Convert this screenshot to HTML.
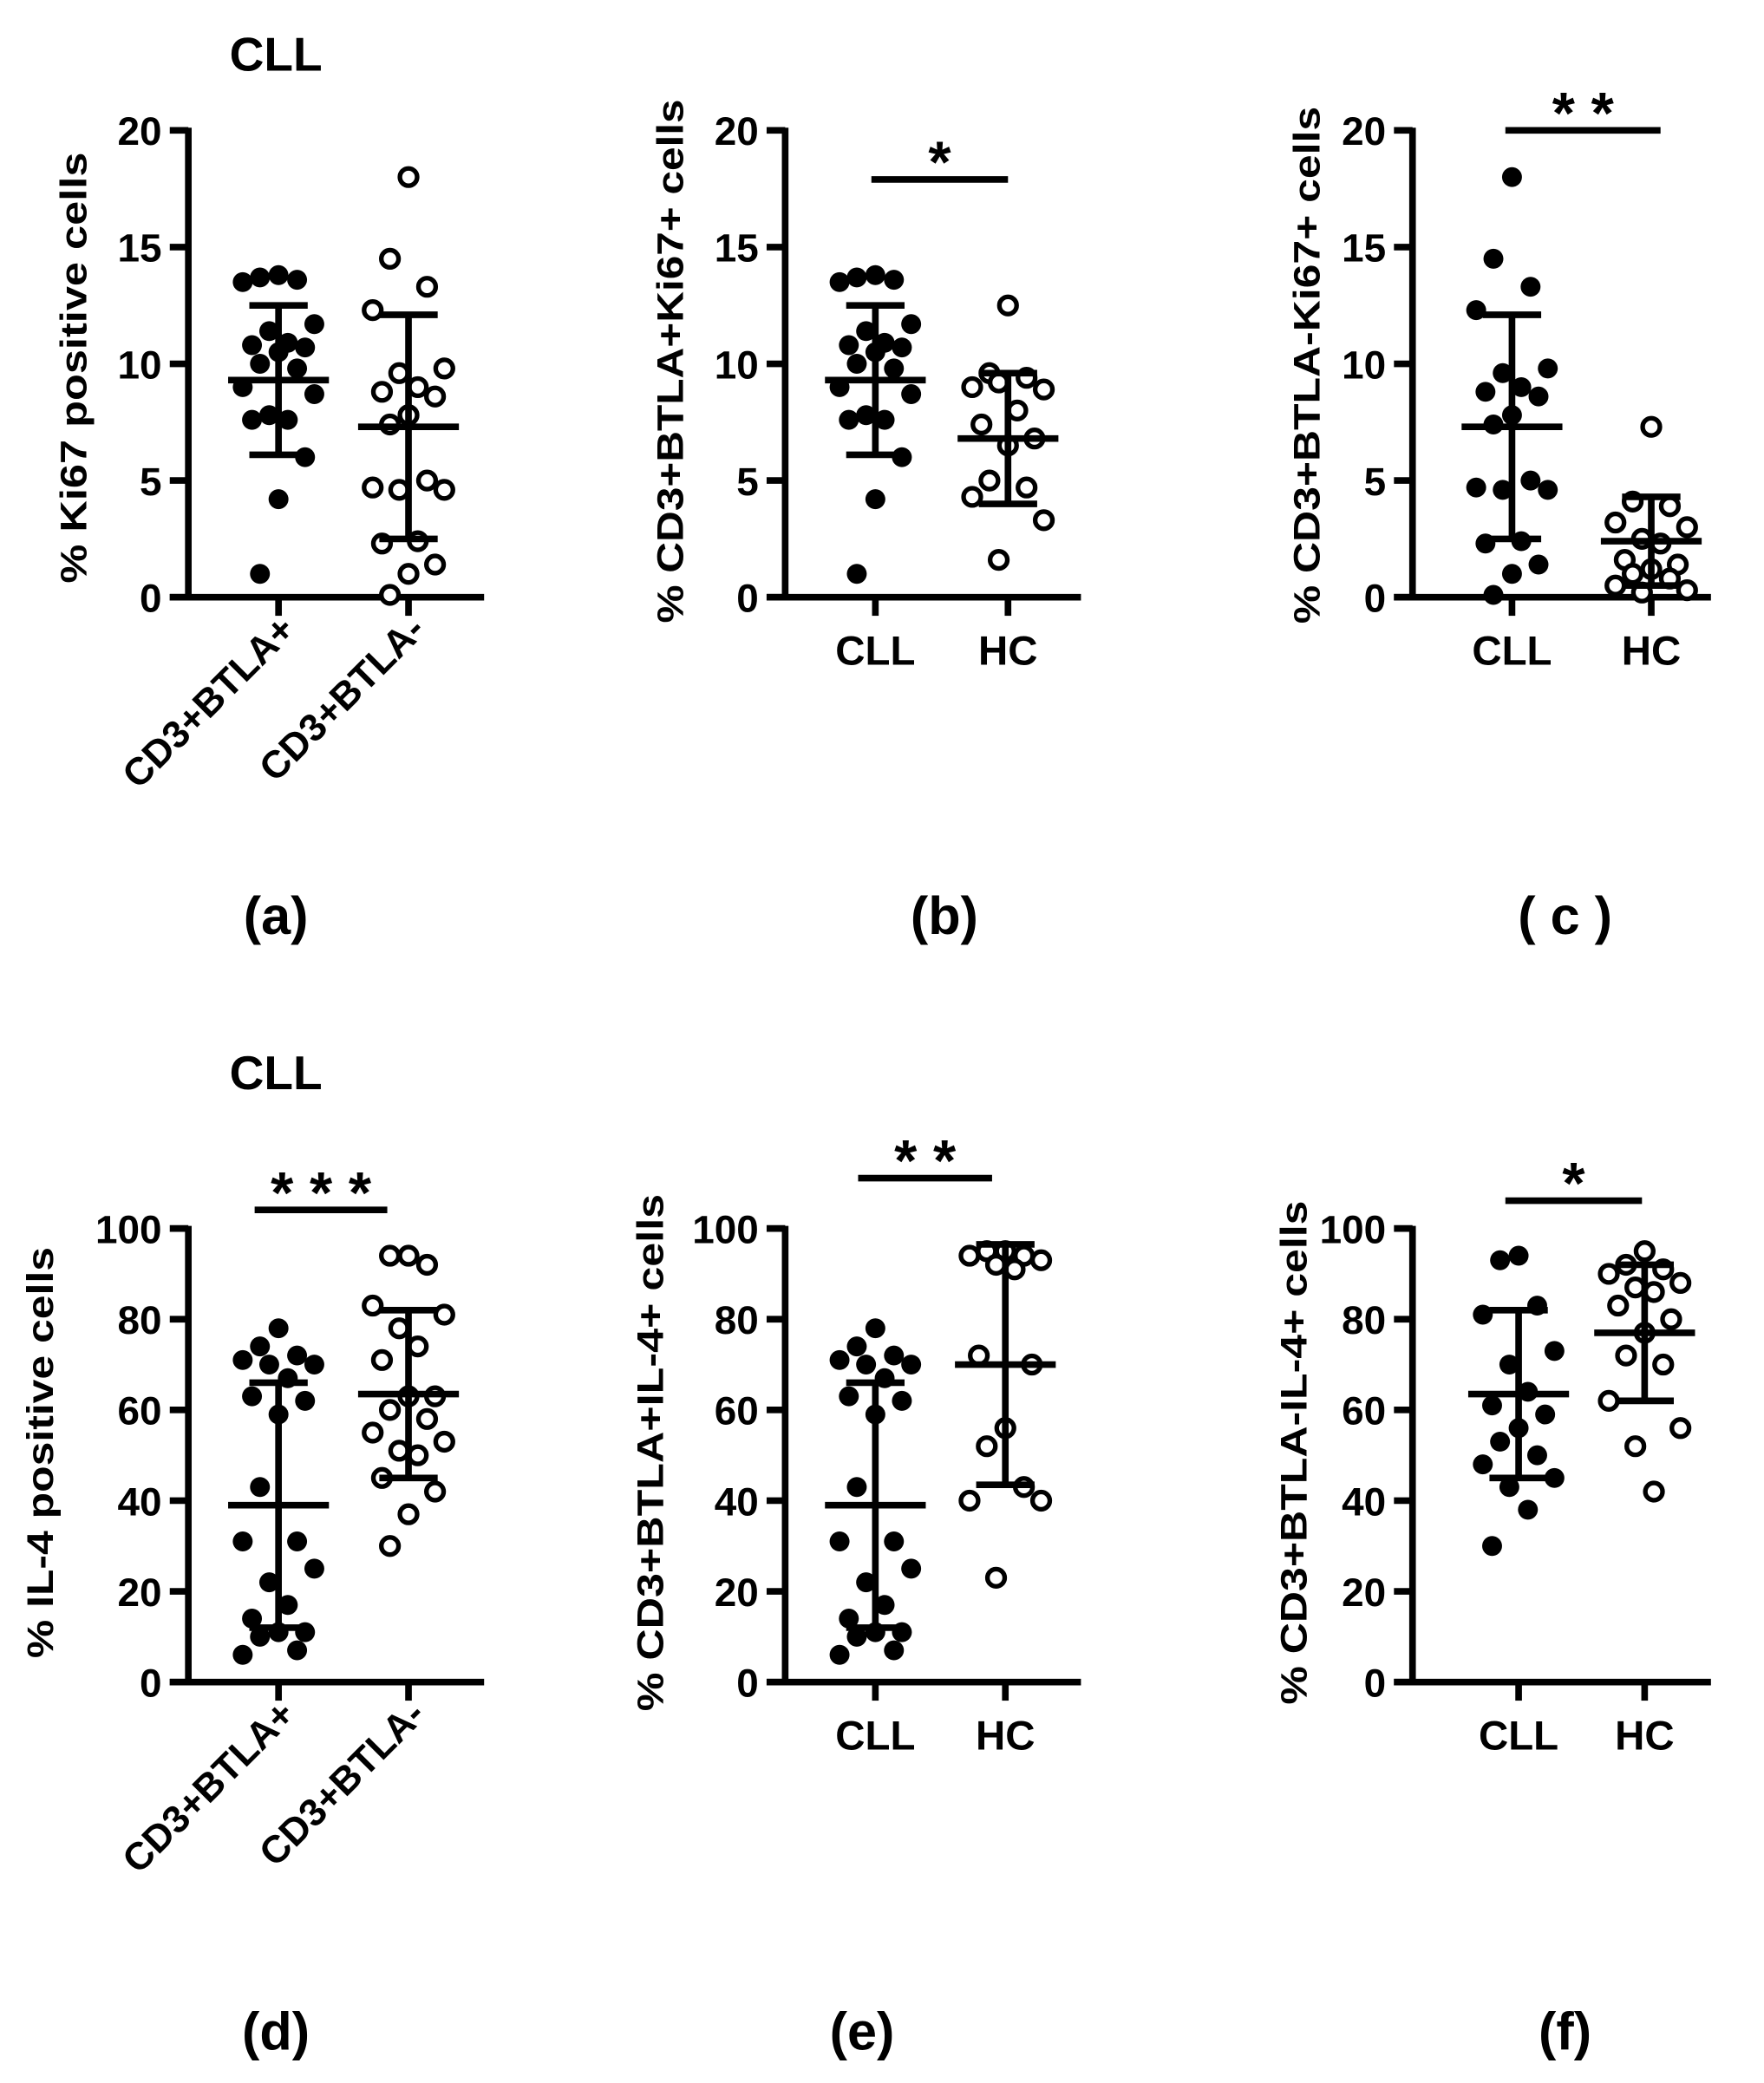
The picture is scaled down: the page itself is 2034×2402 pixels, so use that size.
<!DOCTYPE html>
<html><head><meta charset="utf-8"><style>
html,body{margin:0;padding:0;background:#fff;}
svg{display:block;}
text{font-family:"Liberation Sans",Arial,sans-serif;font-weight:bold;fill:#000;}
</style></head><body>
<svg id="fig" width="2034" height="2402" viewBox="0 0 1330 1570" xmlns="http://www.w3.org/2000/svg"></svg>
<script>
// ---- data ----
const kiCLLPos = [13.8,13.7,13.6,13.5,11.7,11.4,10.9,10.8,10.7,10.5,10.0,9.8,9.0,8.7,7.8,7.6,7.6,6.0,4.2,1.0];
const kiCLLNeg = [18.0,14.5,13.3,12.3,9.8,9.6,9.0,8.8,8.6,7.8,7.4,5.0,4.7,4.6,4.6,2.4,2.3,1.4,1.0,0.1];
const kiHCPos = [12.5,9.6,9.4,9.0,8.9,9.2,8.0,7.4,6.8,6.5,5.0,4.7,4.3,3.3,1.6];
const kiHCNeg = [7.3,4.1,3.9,3.2,3.0,2.5,2.3,1.6,1.4,1.2,1.0,0.8,0.5,0.3,0.2];
const ilCLLPos = [78,74,72,71,70,70,67,63,62,59,43,31,31,25,22,17,14,11,11,10,7,6];
const ilCLLNeg = [94,94,92,83,81,78,74,71,63,63,60,58,55,53,51,50,45,42,37,30];
const ilHCPos = [95,95,94,94,93,92,91,72,70,56,52,43,40,40,23];
const ilfCLL = [94,93,83,81,73,70,64,61,59,56,53,50,48,45,43,38,30];
const ilfHC = [95,92,91,90,88,87,86,83,80,77,72,70,62,56,52,42];
const ticksKi = [0,5,10,15,20];
const ticksIL = [0,20,40,60,80,100];
const catsA = ["CD3+BTLA+","CD3+BTLA-"];
const catsB = ["CLL","HC"];
const meanSD = {
  a:[[9.3,3.2],[7.3,4.8]], b:[[9.3,3.2],[6.8,2.8]], c:[[7.3,4.8],[2.4,1.9]],
  d:[[39,27],[63.5,18.5]], e:[[39,27],[70,26.5]], f:[[63.5,18.5],[77,15]]
};
const sig = {a:null,b:"*",c:"* *",d:"* * *",e:"* *",f:"*"};

const NS="http://www.w3.org/2000/svg";
const svg=document.getElementById('fig');
function el(tag,attrs,parent){const e=document.createElementNS(NS,tag);for(const k in attrs)e.setAttribute(k,attrs[k]);(parent||svg).appendChild(e);return e;}

const panels=[
 {id:'a',ax:142,top:98,bot:450,xr:365,tx:[210,308],max:20,ticks:ticksKi,cats:catsA,rot:true,data:[kiCLLPos,kiCLLNeg],ylab:"% Ki67 positive cells",ylx:55,ylc:277,yll:325,title:"CLL",ty:40,lab:"(a)",labx:208,sigy:null},
 {id:'b',ax:592,top:98,bot:450,xr:815,tx:[660,760],max:20,ticks:ticksKi,cats:catsB,rot:false,data:[kiCLLPos,kiHCPos],ylab:"% CD3+BTLA+Ki67+ cells",ylx:505,ylc:272,yll:395,lab:"(b)",labx:712,sigy:135,s0:-3,s1:0},
 {id:'c',ax:1065,top:98,bot:450,xr:1290,tx:[1140,1245],max:20,ticks:ticksKi,cats:catsB,rot:false,data:[kiCLLNeg,kiHCNeg],ylab:"% CD3+BTLA-Ki67+ cells",ylx:985,ylc:275,yll:390,lab:"( c )",labx:1180,sigy:98,s0:-5,s1:7},
 {id:'d',ax:142,top:926,bot:1268,xr:365,tx:[210,308],max:100,ticks:ticksIL,cats:catsA,rot:true,data:[ilCLLPos,ilCLLNeg],ylab:"% IL-4 positive cells",ylx:30,ylc:1095,yll:310,title:"CLL",ty:808,lab:"(d)",labx:208,sigy:912,s0:-18,s1:-16},
 {id:'e',ax:592,top:926,bot:1268,xr:815,tx:[660,758],max:100,ticks:ticksIL,cats:catsB,rot:false,data:[ilCLLPos,ilHCPos],ylab:"% CD3+BTLA+IL-4+ cells",ylx:490,ylc:1095,yll:390,lab:"(e)",labx:650,sigy:888,s0:-13,s1:-10},
 {id:'f',ax:1065,top:926,bot:1268,xr:1290,tx:[1145,1240],max:100,ticks:ticksIL,cats:catsB,rot:false,data:[ilfCLL,ilfHC],ylab:"% CD3+BTLA-IL-4+ cells",ylx:975,ylc:1095,yll:380,lab:"(f)",labx:1180,sigy:905,s0:-10,s1:-2}
];
const jit=[0,-14,14,-27,27,-7,7,-20,20];

panels.forEach(p=>{
  const g=el('g',{});
  
  
  const y=v=>p.bot-(v/p.max)*(p.bot-p.top);
  const ya=el('line',{x1:p.ax,y1:p.top-2,x2:p.ax,y2:p.bot+2,stroke:'#000','stroke-width':5},g);
  
  
  const xa=el('line',{x1:p.ax-14,y1:p.bot,x2:p.xr,y2:p.bot,stroke:'#000','stroke-width':5},g);
  
  
  p.ticks.forEach(t=>{
    el('line',{x1:p.ax-14,y1:y(t),x2:p.ax,y2:y(t),stroke:'#000','stroke-width':5},g);
    const tl=el('text',{x:p.ax-20,y:y(t)+11,'text-anchor':'end','font-size':30},g);
    tl.textContent=t;
    
    
  });
  p.tx.forEach((tx,i)=>{
    el('line',{x1:tx,y1:p.bot,x2:tx,y2:p.bot+14,stroke:'#000','stroke-width':5},g);
    let t;
    if(p.rot){
      t=el('text',{x:0,y:0,'text-anchor':'end','font-size':29,transform:`translate(${tx+14},${p.bot+26}) rotate(-45)`},g);
    } else {
      t=el('text',{x:tx,y:p.bot+51,'text-anchor':'middle','font-size':31},g);
    }
    t.textContent=p.cats[i];
    
    
  });
  const yl=el('text',{x:0,y:0,'text-anchor':'middle','font-size':28,textLength:p.yll,lengthAdjust:'spacingAndGlyphs',transform:`translate(${p.ylx+10},${p.ylc}) rotate(-90)`},g);
  yl.textContent=p.ylab;
  
  
  p.data.forEach((arr,gi)=>{
    const cx=p.tx[gi];
    arr.forEach((v,i)=>{
      const c=el('circle',{cx:cx+jit[i%jit.length],cy:y(v),r:gi===0?7.5:6.5,fill:gi===0?'#000':'#fff',stroke:'#000','stroke-width':gi===0?0:3.5},g);
      
      
    });
    const [m,sd]=meanSD[p.id][gi];
    const hi=Math.min(y(m+sd),p.bot), lo=Math.min(y(m-sd),p.bot);
    const eb=el('g',{},g);
    
    
    el('line',{x1:cx,y1:hi,x2:cx,y2:lo,stroke:'#000','stroke-width':5},eb);
    el('line',{x1:cx-38,y1:y(m),x2:cx+38,y2:y(m),stroke:'#000','stroke-width':5},eb);
    el('line',{x1:cx-22,y1:hi,x2:cx+22,y2:hi,stroke:'#000','stroke-width':5},eb);
    el('line',{x1:cx-22,y1:lo,x2:cx+22,y2:lo,stroke:'#000','stroke-width':5},eb);
  });
  if(p.sigy!==null){
    const x0=p.tx[0]+p.s0, x1=p.tx[1]+p.s1;
    const sb=el('line',{x1:x0,y1:p.sigy,x2:x1,y2:p.sigy,stroke:'#000','stroke-width':5},g);
    
    
    const st=el('text',{x:(x0+x1)/2,y:p.sigy+2,'text-anchor':'middle','font-size':44},g);
    st.textContent=sig[p.id];
    
    
  }
  if(p.title){
    const tt=el('text',{x:208,y:p.ty+13,'text-anchor':'middle','font-size':36},g);
    tt.textContent=p.title;
    
    
  }
  const pl=el('text',{x:p.labx,y:p.id<'d'?704:1545,'text-anchor':'middle','font-size':40},g);
  pl.textContent=p.lab;
  
  
});
</script>
</body></html>
